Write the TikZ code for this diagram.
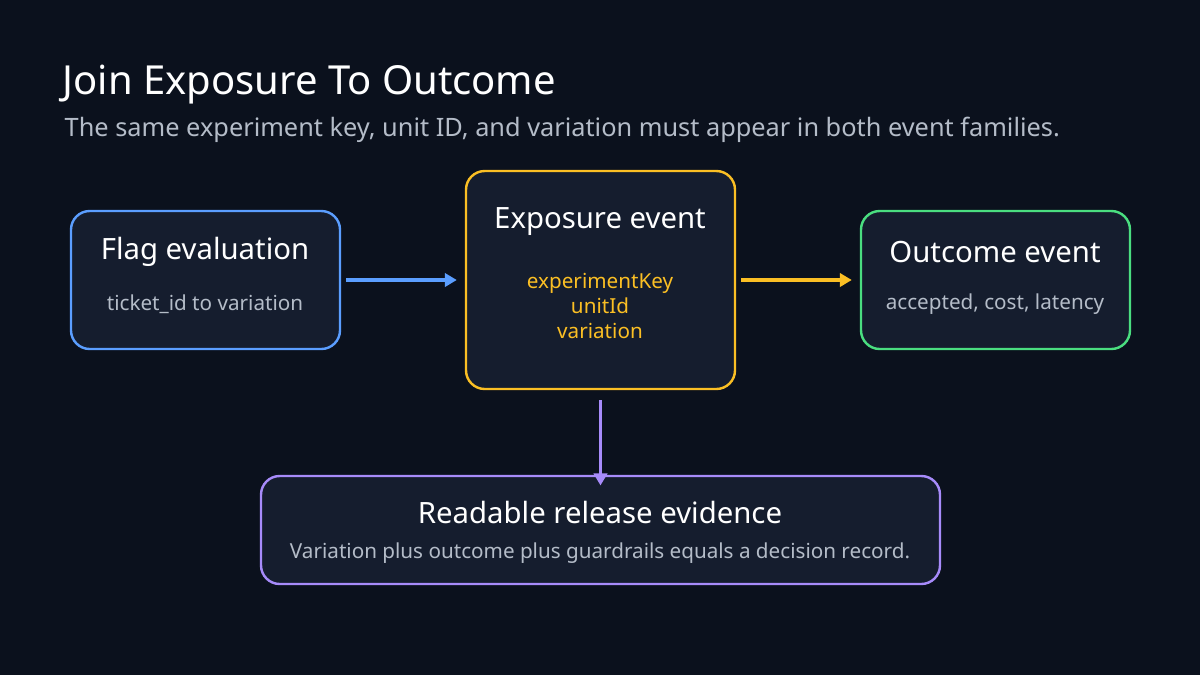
\documentclass[tikz,border=0pt]{standalone}
\usepackage{fontspec}
\setmainfont{Noto Sans}
\usetikzlibrary{arrows.meta}
\definecolor{bg}{HTML}{0B111D}
\definecolor{boxfill}{HTML}{151D2E}
\definecolor{cblue}{HTML}{5B9EFF}
\definecolor{cyel}{HTML}{FBBF24}
\definecolor{cgreen}{HTML}{4ADE80}
\definecolor{cpurp}{HTML}{A78BFA}
\definecolor{sub}{HTML}{B4BCC8}
\begin{document}
\begin{tikzpicture}[x=0.75pt,y=-0.75pt,
  box/.style={draw,line width=1.8pt,fill=boxfill,rounded corners=14pt,inner sep=0pt},
  ttl/.style={text=white,font=\fontsize{22}{26}\selectfont\bfseries},
  sm/.style={text=sub,font=\fontsize{15.5}{20}\selectfont},
  yl/.style={text=cyel,font=\fontsize{15.5}{19}\selectfont,align=center},
  arr/.style={line width=2.6pt,-{Triangle[length=9pt,width=10pt]}}]
\fill[bg] (0,0) rectangle (1200,675);
\node[anchor=west,text=white,font=\fontsize{30}{36}\selectfont\bfseries] (title) at (58,85) {Join Exposure To Outcome};
\node[anchor=west,text=sub,font=\fontsize{19}{23}\selectfont] (subt) at (60,130) {The same experiment key, unit ID, and variation must appear in both event families.};
\node[box,draw=cblue,minimum width=269*0.75pt,minimum height=138*0.75pt] (flag) at (205.5,280) {};
\node[box,draw=cyel,minimum width=269*0.75pt,minimum height=218*0.75pt] (exp) at (600.5,280) {};
\node[box,draw=cgreen,minimum width=269*0.75pt,minimum height=138*0.75pt] (out) at (995.5,280) {};
\node[box,draw=cpurp,minimum width=679*0.75pt,minimum height=108*0.75pt] (rel) at (600.5,530) {};
\node[ttl] (flagt) at (205,252) {Flag evaluation};
\node[sm] (flags) at (205,304) {ticket\_id to variation};
\node[ttl] (expt) at (600,222) {Exposure event};
\node[yl] (expy) at (600,306) {experimentKey\\unitId\\variation};
\node[ttl] (outt) at (995,252) {Outcome event};
\node[sm] (outs) at (995,304) {accepted, cost, latency};
\node[ttl] (relt) at (600,512) {Readable release evidence};
\node[sm] (rels) at (600,553) {Variation plus outcome plus guardrails equals a decision record.};
\draw[arr,cblue] (flag.east)++(5,0) -- ([xshift=-6]exp.west);
\draw[arr,cyel] (exp.east)++(5,0) -- ([xshift=-6]out.west);
\draw[arr,cpurp] (exp.south)++(0,10) -- ([yshift=-8]rel.north);
\end{tikzpicture}
\end{document}
